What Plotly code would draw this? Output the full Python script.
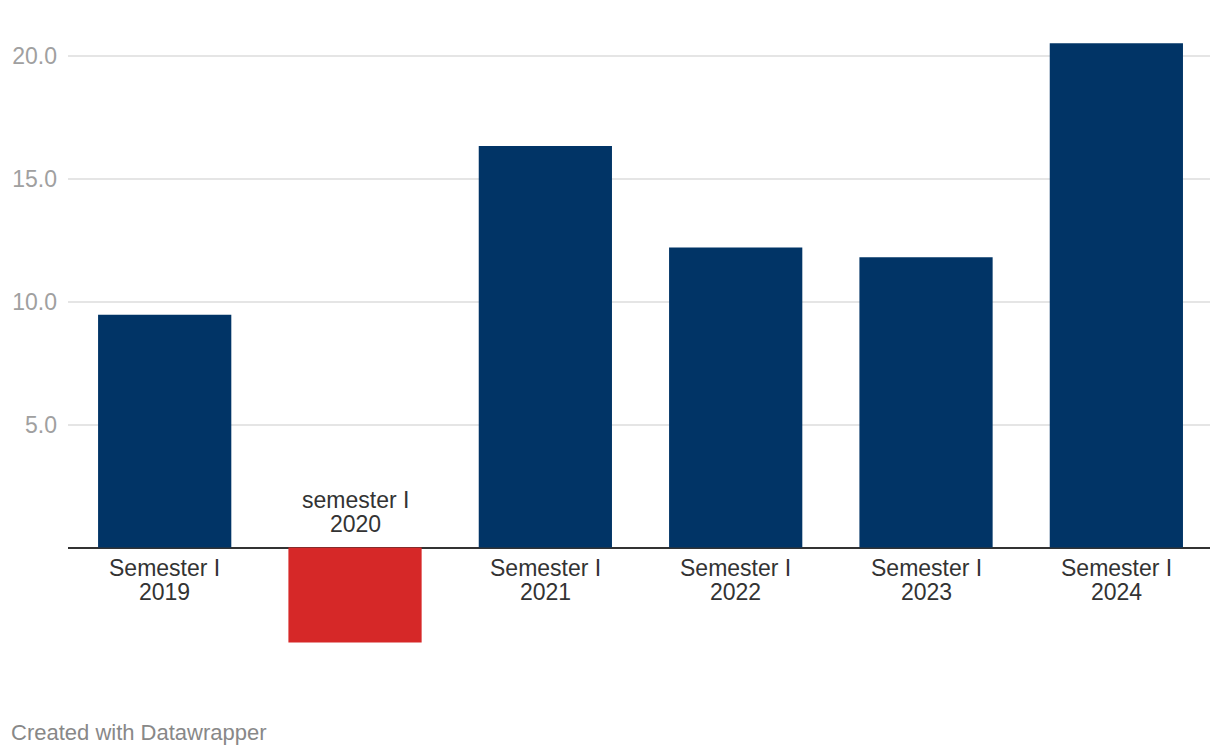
import plotly.graph_objects as go

line1 = ["Semester I", "semester I", "Semester I", "Semester I", "Semester I", "Semester I"]
line2 = ["2019", "2020", "2021", "2022", "2023", "2024"]
values = [9.47, -3.86, 16.33, 12.2, 11.8, 20.5]
tick_vals = [5, 10, 15, 20]
tick_text = ["5.0", "10.0", "15.0", "20.0"]

colors = ["#013466" if v >= 0 else "#d62828" for v in values]
FONT = "Liberation Sans, Arial, Helvetica, sans-serif"

fig = go.Figure()
fig.add_trace(go.Bar(
    x=list(range(len(values))), y=values,
    marker=dict(color=colors, line=dict(width=0)),
    hoverinfo="skip",
))

lab_font = dict(family=FONT, size=23, color="#333333")
for i, (a, b, v) in enumerate(zip(line1, line2, values)):
    if v >= 0:
        s1, s2 = -20, -44
    else:
        s1, s2 = 48, 24
    fig.add_annotation(x=i, y=0, text=a, showarrow=False, yanchor="middle",
                       yshift=s1, font=lab_font)
    fig.add_annotation(x=i, y=0, text=b, showarrow=False, yanchor="middle",
                       yshift=s2, font=lab_font)

fig.add_annotation(xref="paper", yref="paper", x=0, y=0, xshift=-59, yshift=-86,
                   xanchor="left", yanchor="middle", showarrow=False,
                   text="Created with Datawrapper",
                   font=dict(family=FONT, size=22, color="#888888"))

fig.update_layout(
    width=1220, height=756,
    margin=dict(l=68, r=10, t=31, b=110),
    paper_bgcolor="white", plot_bgcolor="white",
    bargap=0.3, showlegend=False,
    xaxis=dict(range=[-0.508, 5.492], showticklabels=False, showgrid=False,
               zeroline=False, showline=False, fixedrange=True),
    yaxis=dict(range=[-4, 21], tickvals=tick_vals, ticktext=tick_text,
               showgrid=True, gridcolor="#e5e5e5", gridwidth=1.5,
               zeroline=True, zerolinecolor="#333333", zerolinewidth=2,
               showline=False, ticks="", ticklabelstandoff=10, fixedrange=True,
               tickfont=dict(family=FONT, size=23, color="#a0a0a0")),
)

fig.write_html("out.html", config={"displayModeBar": False},
               post_script="document.body.style.margin='0';")
